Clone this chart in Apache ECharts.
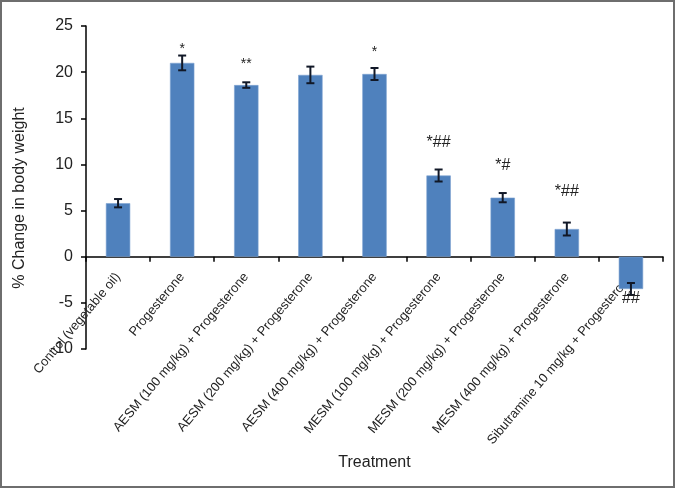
<!DOCTYPE html>
<html>
<head>
<meta charset="utf-8">
<script src="https://cdn.jsdelivr.net/npm/echarts@6/dist/echarts.min.js"></script>
<style>html,body{margin:0;padding:0;background:#fff;}#main{width:675px;height:488px;}</style>
</head>
<body>
<div id="main"></div>
<script>
var categories = [
  'Control (vegetable oil)',
  'Progesterone',
  'AESM (100 mg/kg) + Progesterone',
  'AESM (200 mg/kg) + Progesterone',
  'AESM (400 mg/kg) + Progesterone',
  'MESM (100 mg/kg) + Progesterone',
  'MESM (200 mg/kg) + Progesterone',
  'MESM (400 mg/kg) + Progesterone',
  'Sibutramine 10 mg/kg + Progesterone'
];
var values = [5.8, 21.0, 18.6, 19.7, 19.8, 8.8, 6.4, 3.0, -3.5];
var errors = [0.45, 0.8, 0.3, 0.9, 0.65, 0.65, 0.5, 0.7, 0.65];
var annotations = ['', '*', '**', '', '*', '*##', '*#', '*##', '##'];
var annotationLevels = [null, 22.5, 20.9, null, 22.2, 12.4, 9.9, 7.1, -4.5];
var yTicks = {min: -10, max: 25, interval: 5};
var yTitle = '% Change in body weight';
var xTitle = 'Treatment';

var W = 675, H = 488;
var gridTop = 26, gridBottom = 139;
var plotH = H - gridTop - gridBottom;
// shift the category axis up to the zero line
var zeroOffset = -plotH * (0 - yTicks.min) / (yTicks.max - yTicks.min);

var chart = echarts.init(document.getElementById('main'));
var font = 'Liberation Sans, Arial, sans-serif';
chart.setOption({
  animation: false,
  backgroundColor: '#fff',
  graphic: [{
    type: 'rect', shape: {x: 1, y: 1, width: 673, height: 486},
    style: {fill: 'none', stroke: '#6e6e6e', lineWidth: 2}, silent: true, z: 100
  }, {
    type: 'text', x: 20, y: 198, rotation: Math.PI / 2,
    style: {text: yTitle, fontSize: 16, fill: '#222', fontFamily: font, align: 'center', verticalAlign: 'middle'}
  }],
  grid: {left: 86, right: 12, top: gridTop, bottom: gridBottom, outerBoundsMode: 'none', containLabel: false},
  xAxis: {
    type: 'category',
    data: categories,
    offset: zeroOffset,
    name: xTitle,
    nameLocation: 'middle',
    nameGap: 198,
    nameTextStyle: {fontSize: 16, color: '#222', fontFamily: font},
    axisLine: {onZero: false, lineStyle: {color: '#000', width: 1.5}},
    axisTick: {show: true, length: 5, lineStyle: {color: '#000', width: 1.5}},
    axisLabel: {interval: 0, rotate: 50, fontSize: 13, margin: 18, color: '#222', fontFamily: font}
  },
  yAxis: {
    type: 'value',
    min: yTicks.min, max: yTicks.max, interval: yTicks.interval,
    splitLine: {show: false},
    axisLine: {show: true, lineStyle: {color: '#000', width: 1.5}},
    axisTick: {show: true, length: 5, lineStyle: {color: '#000', width: 1.5}},
    axisLabel: {fontSize: 16, color: '#222', margin: 13, fontFamily: font}
  },
  series: [
    {
      type: 'bar',
      data: values,
      barWidth: '38%',
      itemStyle: {color: '#4F81BD', borderColor: '#7ea3d1', borderWidth: 0.6}
    },
    {
      type: 'custom',
      data: values.map(function (v, i) { return [i, v, errors[i]]; }),
      renderItem: function (params, api) {
        var i = api.value(0), v = api.value(1), e = api.value(2);
        var hi = api.coord([i, v + e]);
        var lo = api.coord([i, v - e]);
        var w = 4;
        var st = {stroke: '#111827', lineWidth: 2};
        return {type: 'group', children: [
          {type: 'line', shape: {x1: hi[0], y1: hi[1], x2: lo[0], y2: lo[1]}, style: st},
          {type: 'line', shape: {x1: hi[0] - w, y1: hi[1], x2: hi[0] + w, y2: hi[1]}, style: st},
          {type: 'line', shape: {x1: lo[0] - w, y1: lo[1], x2: lo[0] + w, y2: lo[1]}, style: st}
        ]};
      },
      z: 5
    },
    {
      type: 'custom',
      data: annotationLevels.map(function (v, i) { return [i, v == null ? 0 : v]; }),
      renderItem: function (params, api) {
        var idx = params.dataIndex;
        var txt = annotations[idx];
        if (!txt) return null;
        var p = api.coord([api.value(0), api.value(1)]);
        var hasHash = txt.indexOf('#') >= 0;
        return {type: 'text', x: p[0], y: p[1], style: {
          text: txt, align: 'center', verticalAlign: 'middle',
          fontSize: hasHash ? 16 : 14, fill: '#222', fontFamily: font
        }};
      },
      z: 6
    }
  ]
});
</script>
</body>
</html>
